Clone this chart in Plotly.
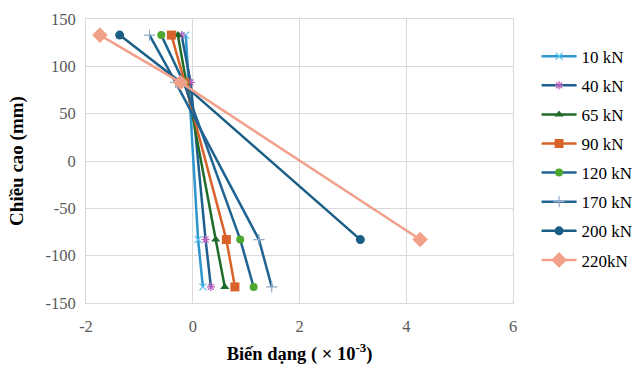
import plotly.graph_objects as go

heights = [133, 83, -83, -133]
series_names = ["10 kN", "40 kN", "65 kN", "90 kN", "120 kN", "170 kN", "200 kN", "220kN"]
strain_10 = [-0.13, -0.08, 0.10, 0.19]
strain_40 = [-0.21, -0.04, 0.24, 0.34]
strain_65 = [-0.28, -0.12, 0.43, 0.60]
strain_90 = [-0.40, -0.15, 0.63, 0.79]
strain_120 = [-0.59, -0.17, 0.89, 1.14]
strain_170 = [-0.81, -0.32, 1.24, 1.48]
strain_200 = [-1.37, -0.22, 3.14]
strain_220 = [-1.74, -0.23, 4.26]

x_ticks = [-2, 0, 2, 4, 6]
x_tick_text = ["-2", "0", "2", "4", "6"]
y_ticks = [-150, -100, -50, 0, 50, 100, 150]
y_tick_text = ["-150", "-100", "-50", "0", "50", "100", "150"]

all_strains = [strain_10, strain_40, strain_65, strain_90, strain_120, strain_170, strain_200, strain_220]
line_colors = ["#2E95CF", "#1F5F8B", "#1E6B2A", "#D9622B", "#1F6391", "#1F6391", "#1B5E85", "#F1A08A"]
marker_colors = ["#5BC3EE", "#B560C0", "#1E6B2A", "#D9622B", "#4EA72E", "#8FA9C6", "#1B5E85", "#F1A08A"]
marker_symbols = ["x-thin", "asterisk", "triangle-up", "square", "circle", "cross-thin", "circle", "diamond"]
marker_sizes = [7, 7, 8, 9, 8, 8, 9, 12]

SERIF = "Liberation Serif"

fig = go.Figure()
for i, (name, xs) in enumerate(zip(series_names, all_strains)):
    thin = marker_symbols[i] in ("x-thin", "asterisk", "cross-thin")
    fig.add_trace(go.Scatter(
        x=xs, y=heights[:len(xs)], name=name, mode="lines+markers",
        legendgroup=name,
        line=dict(color=line_colors[i], width=2.5),
        marker=dict(symbol=marker_symbols[i], size=marker_sizes[i], color=marker_colors[i],
                    line=dict(color=marker_colors[i], width=1.2 if thin else 0)),
    ))

fig.update_layout(
    width=635, height=365,
    margin=dict(l=86, r=122, t=19, b=62, autoexpand=False),
    paper_bgcolor="white", plot_bgcolor="white",
    font=dict(family=SERIF, size=16, color="#595959"),
    showlegend=True,
    legend=dict(x=0.845, xanchor="left", xref="container", y=0.51, yanchor="middle", yref="paper",
                font=dict(family=SERIF, size=17, color="black"),
                tracegroupgap=4, itemwidth=35, bgcolor="rgba(0,0,0,0)"),
    xaxis=dict(range=[-2, 6], tickvals=x_ticks, ticktext=x_tick_text, showgrid=True,
               gridcolor="#D9D9D9", gridwidth=1, ticklabelstandoff=8, automargin=False,
               zeroline=False, showline=True, linecolor="#D9D9D9", mirror=True, ticks="",
               tickfont=dict(family=SERIF, size=16.5, color="#595959"),
               title=dict(text="Biến dạng ( × 10<sup>-3</sup>)", standoff=14,
                          font=dict(family=SERIF, size=18.5, color="black", weight="bold"))),
    yaxis=dict(range=[-150, 150], tickvals=y_ticks, ticktext=y_tick_text, showgrid=True,
               gridcolor="#D9D9D9", gridwidth=1, ticklabelstandoff=6, automargin=False,
               zeroline=False, showline=True, linecolor="#D9D9D9", mirror=True, ticks="",
               tickfont=dict(family=SERIF, size=16.5, color="#595959"),
               title=dict(text="Chiều cao (mm)", standoff=16,
                          font=dict(family=SERIF, size=19, color="black", weight="bold"))),
)

fig.write_html("out.html")
